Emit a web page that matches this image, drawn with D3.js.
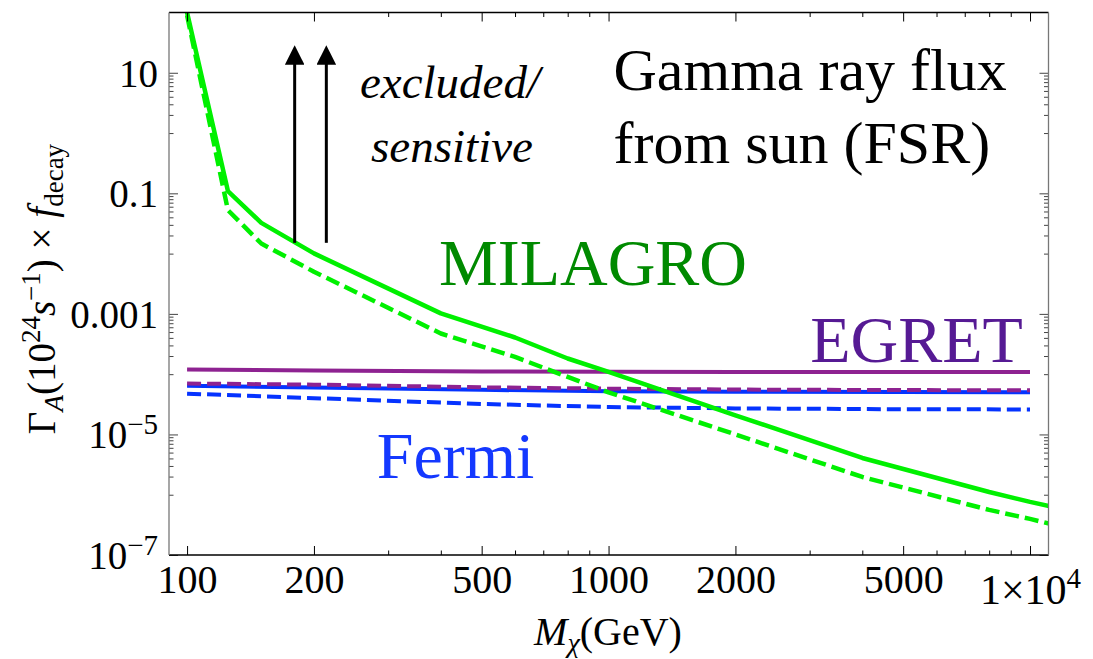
<!DOCTYPE html>
<html>
<head>
<meta charset="utf-8">
<script src="https://cdn.jsdelivr.net/npm/d3@7"></script>
<style>
	body { margin: 0; background: #fff; }
	svg text { font-family: "Liberation Serif", "Times New Roman", serif; }
</style>
</head>
<body>
<svg id="chart" width="1093" height="659"></svg>
<script>
// dark matter mass (GeV) where the curves were read
var massMilagro = [100, 125, 150, 200, 400, 600, 800, 1000, 2000, 4000, 8000, 10000, 11100];
var milagroSolid = [100, 0.109, 0.0324, 0.0101, 1.02e-3, 4.06e-4, 1.82e-4, 1.09e-4, 2.08e-5, 4.07e-6, 1.11e-6, 7.6e-7, 6.5e-7];
var milagroDashed = [90, 0.0526, 0.0147, 0.005, 4.73e-4, 1.93e-4, 9.0e-5, 5.0e-5, 1.0e-5, 1.97e-6, 5.6e-7, 3.97e-7, 3.32e-7];

var massFlat = [100, 200, 500, 1000, 2000, 5000, 10000];
var egretSolid = [1.19e-4, 1.15e-4, 1.11e-4, 1.10e-4, 1.09e-4, 1.09e-4, 1.09e-4];
var egretDashed = [7.0e-5, 6.7e-5, 6.05e-5, 5.75e-5, 5.55e-5, 5.45e-5, 5.4e-5];
var fermiSolid = [6.45e-5, 6.0e-5, 5.5e-5, 5.2e-5, 5.1e-5, 5.05e-5, 5.0e-5];
var fermiDashed = [4.75e-5, 4.0e-5, 3.2e-5, 2.85e-5, 2.7e-5, 2.62e-5, 2.6e-5];

// arrows: mass, from value, to value
var arrowMass = [180, 214];
var arrowFrom = 0.0151;
var arrowTo = 27;

var xMajorTicks = [100, 200, 500, 1000, 2000, 5000, 10000];
var xMinorTicks = [300, 400, 600, 700, 800, 900, 3000, 4000, 6000, 7000, 8000, 9000];
var yMajorTicks = [10, 0.1, 0.001, 1e-5, 1e-7];

var frameL = 169, frameR = 1048.5, frameT = 12.5, frameB = 555;
var green = '#00f000', purple = '#8e2291', blue = '#0533ff';
var serif = '"Liberation Serif", "Times New Roman", serif';

var svg = d3.select('#chart');

var x = d3.scaleLog().domain([90.6, 11062]).range([frameL, frameR]);
var y = d3.scaleLog().domain([1e-7, 100]).range([frameB, frameT]);

// minor y ticks: j * 10^(k-1) below every labelled decade
var yMinorTicks = [];
yMajorTicks.forEach(function(m){
	for (var j = 1; j <= 9; j++) {
		var v = j * m / 10;
		if (v >= 1e-7) yMinorTicks.push(v);
	}
});

//clip for curves
svg.append('defs').append('clipPath').attr('id', 'clip')
	.append('rect')
	.attr('x', frameL).attr('y', frameT)
	.attr('width', frameR - frameL).attr('height', frameB - frameT);

var line = d3.line()
	.x(function(d){ return x(d[0]); })
	.y(function(d){ return y(d[1]); });

function drawCurve(masses, values, color, width, dashed){
	svg.append('path')
	.datum(d3.zip(masses, values))
	.attr('clip-path', 'url(#clip)')
	.attr('d', line)
	.attr('fill', 'none')
	.attr('stroke', color)
	.attr('stroke-width', width)
	.attr('stroke-linejoin', 'round')
	.attr('stroke-dasharray', dashed ? '14,6' : null);
}

drawCurve(massFlat, fermiSolid, blue, 4, false);
drawCurve(massFlat, fermiDashed, blue, 4, true);
drawCurve(massFlat, egretSolid, purple, 4, false);
drawCurve(massFlat, egretDashed, purple, 4, true);
drawCurve(massMilagro, milagroSolid, green, 4.5, false);
drawCurve(massMilagro, milagroDashed, green, 4.5, true);

//axes, ticks pointing inward
function sup(sel){
	sel.each(function(d){
		var t = d3.select(this);
		if (d < 1e-4) {
			t.text('10');
			t.append('tspan').attr('font-size', 29).attr('dy', -14).text('\u2212' + Math.round(-Math.log10(d)));
		}
	});
}

function plainTicks(g, color){
	g.select('.domain').remove();
	g.selectAll('line').attr('stroke', color);
}

svg.append('g').attr('transform', 'translate(' + frameL + ',0)')
	.call(d3.axisLeft(y).tickValues(yMinorTicks).tickSize(-4.5).tickFormat(''))
	.call(plainTicks, '#444');
svg.append('g').attr('transform', 'translate(' + frameL + ',0)')
	.call(d3.axisLeft(y).tickValues(yMajorTicks).tickSize(-9).tickPadding(11)
		.tickFormat(function(d){ return String(d); }))
	.call(plainTicks, '#444')
	.call(function(g){
		g.selectAll('text').attr('font-size', 39).attr('fill', '#000')
			.style('font-family', serif).attr('dy', '0.34em').call(sup);
	});
svg.append('g').attr('transform', 'translate(' + frameR + ',0)')
	.call(d3.axisRight(y).tickValues(yMinorTicks).tickSize(-4.5).tickFormat(''))
	.call(plainTicks, '#444');
svg.append('g').attr('transform', 'translate(' + frameR + ',0)')
	.call(d3.axisRight(y).tickValues(yMajorTicks).tickSize(-9).tickFormat(''))
	.call(plainTicks, '#444');

svg.append('g').attr('transform', 'translate(0,' + frameB + ')')
	.call(d3.axisBottom(x).tickValues(xMinorTicks).tickSize(-4.5).tickFormat(''))
	.call(plainTicks, '#000');
svg.append('g').attr('transform', 'translate(0,' + frameB + ')')
	.call(d3.axisBottom(x).tickValues(xMajorTicks).tickSize(-9).tickPadding(10)
		.tickFormat(function(d){ return d < 10000 ? String(d) : '1\u00d710'; }))
	.call(plainTicks, '#000')
	.call(function(g){
		g.selectAll('text').attr('font-size', 40).attr('fill', '#000')
			.style('font-family', serif)
			.each(function(d){
				if (d === 10000) {
					d3.select(this).attr('dy', '0.92em').attr('font-size', 42)
					.append('tspan').attr('font-size', 29).attr('dy', -16).text('4');
				}
			});
	});
svg.append('g').attr('transform', 'translate(0,' + frameT + ')')
	.call(d3.axisTop(x).tickValues(xMinorTicks).tickSize(-4.5).tickFormat(''))
	.call(plainTicks, '#000');
svg.append('g').attr('transform', 'translate(0,' + frameT + ')')
	.call(d3.axisTop(x).tickValues(xMajorTicks).tickSize(-9).tickFormat(''))
	.call(plainTicks, '#000');

//frame
svg.append('line').attr('x1', frameL).attr('x2', frameR).attr('y1', frameT).attr('y2', frameT)
	.attr('stroke', '#000').attr('stroke-width', 1.3);
svg.append('line').attr('x1', frameL).attr('x2', frameR).attr('y1', frameB).attr('y2', frameB)
	.attr('stroke', '#000').attr('stroke-width', 1.3);
svg.append('line').attr('x1', frameL).attr('x2', frameL).attr('y1', frameT).attr('y2', frameB)
	.attr('stroke', '#777').attr('stroke-width', 1.3);
svg.append('line').attr('x1', frameR).attr('x2', frameR).attr('y1', frameT).attr('y2', frameB)
	.attr('stroke', '#777').attr('stroke-width', 1.3);

//arrows
svg.append('defs').append('marker')
	.attr('id', 'head')
	.attr('viewBox', '0 0 10 10')
	.attr('refX', 2).attr('refY', 5)
	.attr('markerWidth', 6.5).attr('markerHeight', 6.5)
	.attr('markerUnits', 'strokeWidth')
	.attr('orient', 'auto')
	.append('path').attr('d', 'M0,0 L10,5 L0,10 Z').attr('fill', '#000');

svg.append('g').selectAll('line')
	.data(arrowMass)
	.enter()
	.append('line')
	.attr('x1', function(d){ return x(d); })
	.attr('x2', function(d){ return x(d); })
	.attr('y1', y(arrowFrom))
	.attr('y2', y(arrowTo) + 14)
	.attr('stroke', '#000')
	.attr('stroke-width', 3)
	.attr('marker-end', 'url(#head)');

//labels in the plot
function label(xp, yp, size, str){
	return svg.append('text').attr('x', xp).attr('y', yp)
		.style('font-family', serif).attr('font-size', size).text(str);
}
label(450, 98, 47, 'excluded/').attr('text-anchor', 'middle').attr('font-style', 'italic');
label(452, 161.7, 47, 'sensitive').attr('text-anchor', 'middle').attr('font-style', 'italic');
label(613.5, 90, 60, 'Gamma ray flux');
label(613.5, 163, 60, 'from sun (FSR)');
label(593, 285, 66, 'MILAGRO').attr('text-anchor', 'middle').attr('fill', '#008a00');
label(916.5, 361.7, 66, 'EGRET').attr('text-anchor', 'middle').attr('fill', '#561a94');
label(455.5, 478, 66, 'Fermi').attr('text-anchor', 'middle').attr('fill', '#1438ff');

//axis titles
var xt = label(608, 645, 40, '').attr('text-anchor', 'middle');
xt.append('tspan').attr('font-style', 'italic').text('M');
xt.append('tspan').attr('font-style', 'italic').attr('font-size', 28).attr('dy', 7).text('\u03c7');
xt.append('tspan').attr('dy', -7).text('(GeV)');

var yt = label(0, 0, 39, '')
	.attr('transform', 'translate(55,289) rotate(-90)')
	.attr('text-anchor', 'middle');
yt.append('tspan').text('\u0393');
yt.append('tspan').attr('font-style', 'italic').attr('font-size', 27).attr('dy', 8).text('A');
yt.append('tspan').attr('dy', -8).text('(10');
yt.append('tspan').attr('font-size', 27).attr('dy', -15).text('24');
yt.append('tspan').attr('font-style', 'italic').attr('dy', 15).text('s');
yt.append('tspan').attr('font-size', 27).attr('dy', -15).text('\u22121');
yt.append('tspan').attr('dy', 15).text(') \u00d7 ');
yt.append('tspan').attr('font-style', 'italic').text('f');
yt.append('tspan').attr('font-size', 27).attr('dy', 8).text('decay');
</script>
</body>
</html>
